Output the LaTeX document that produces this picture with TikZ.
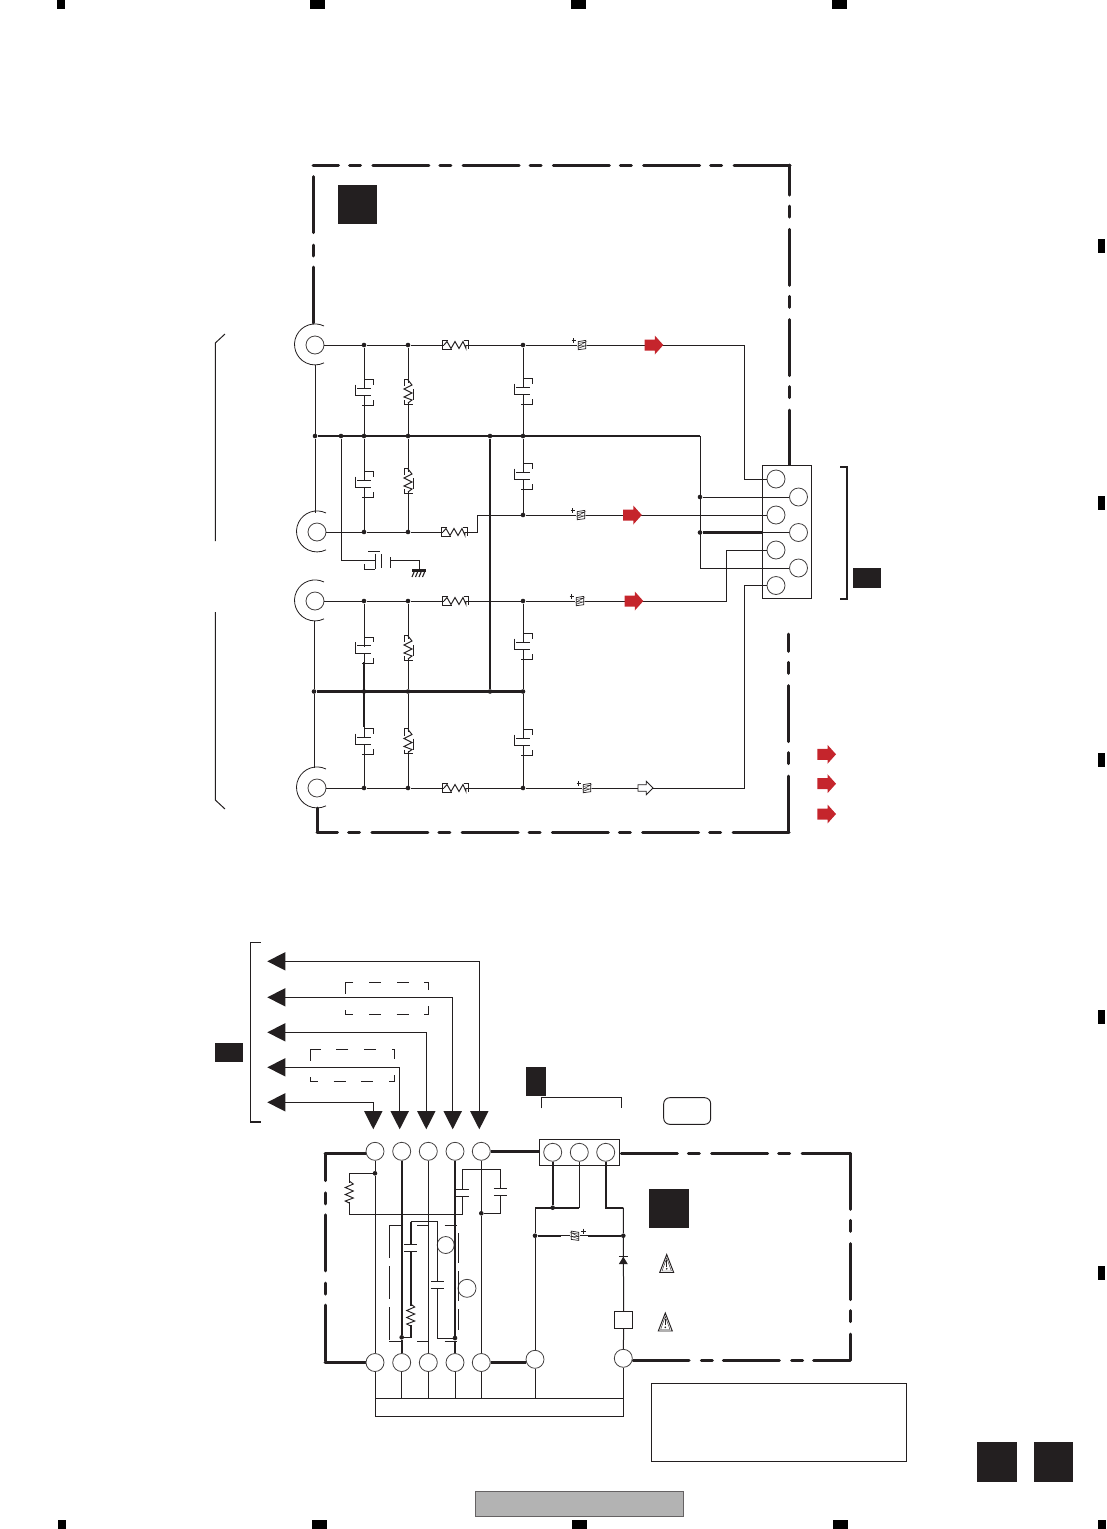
\documentclass[tikz,border=0pt]{standalone}
\definecolor{ink}{HTML}{231F20}
\definecolor{redmark}{HTML}{C5252C}
\definecolor{panelgray}{HTML}{B3B3B3}
\tikzset{
  wire/.style={ink,line width=1pt},
  heavy/.style={ink,line width=2.2pt},
  frameline/.style={ink,line width=3pt,line cap=round,dash pattern=on 56pt off 12.3pt on 11pt off 11pt},
  framesolid/.style={ink,line width=3pt,line cap=round},
  markline/.style={ink,line width=.95pt},
  boxdash/.style={ink,line width=1pt,dash pattern=on 12pt off 15.7pt},
  term/.style={circle,draw=ink!85,line width=.8pt,minimum size=18pt,inner sep=0pt,fill=white},
  junc/.style={circle,fill=ink,minimum size=4.6pt,inner sep=0pt},
  plainbox/.style={draw=ink,line width=1pt,inner sep=0pt,fill=white},
  capmark/.pic={
    \fill[white] (-3,-3) rectangle (3,3);
    \draw[wire] (-6.7,-3.6) -- (6.7,-3.6);
    \draw[wire] (-6.7,3.6) -- (6.7,3.6);
    \draw[markline] (-9,-7.3) -- (-9,3.6) -- (-6.7,3.6);
    \draw[markline] (.7,-12.3) -- (9.3,-12.3) -- (9.3,-7.3);
    \draw[markline] (-2,13.7) -- (9.3,13.7) -- (9.3,8.3);
  },
  capplain/.pic={
    \fill[white] (-3,-3) rectangle (3,3);
    \draw[wire] (-6.5,-3.7) -- (6.5,-3.7);
    \draw[wire] (-6.5,3.7) -- (6.5,3.7);
  },
  resplain/.pic={
    \fill[white] (-2,-9.5) rectangle (2,9.5);
    \draw[markline] (0,-11) -- (4,-8) -- (-4,-4.5) -- (4,-1) -- (-4,2.5) -- (4,6) -- (-4,9) -- (0,11);
  },
  resmark/.pic={
    \fill[white] (-2,-9.5) rectangle (2,9.5);
    \draw[markline] (0,-12) -- (4,-7) -- (-4,-3) -- (4,1) -- (-4,5) -- (4,8) -- (0,11);
    \draw[markline] (0,-13) -- (-4,-13) -- (-4,-6);
    \draw[markline] (5,-3) -- (5,8);
    \draw[markline] (-4,8) -- (-4,12.3) -- (5,12.3);
  },
  reshoriz/.pic={
    \fill[white] (-11,-2) rectangle (11,2);
    \draw[markline] (-11,0) -- (-8,-3.5) -- (-4,3.5) -- (0,-3.5) -- (4,3.5) -- (8,-3.5) -- (11,3.5) -- (11,0);
    \draw[markline] (-7,-4.2) -- (-13,-4.2) -- (-13,4.2) -- (-3,4.2);
    \draw[markline] (9,-4.2) -- (13,-4.2) -- (13,4);
  },
  bead/.pic={
    \fill[white] (-5,-2) rectangle (5,2);
    \draw[ink,line width=.7pt] (-3.7,-3.4) -- (3.7,-4.6) -- (3.7,3.7) -- (-3.7,4.7) -- cycle;
    \draw[ink,line width=.45pt] (-3.7,-1.5) -- (3.7,-3) -- (-3.7,1) -- (3.7,.7) -- (-3.7,3.2);
    \draw[markline] (-10.5,-4.6) -- (-6,-4.6);
    \draw[markline] (-8.2,-7) -- (-8.2,-2.2);
  },
  redarrow/.pic={
    \fill[redmark] (-9.3,-5.5) -- (.8,-5.5) -- (.8,-9.5) -- (9.3,0) -- (.8,9.5) -- (.8,5.5) -- (-9.3,5.5) -- cycle;
  },
  hollowarrow/.pic={
    \draw[wire,fill=white,line width=.8pt] (-7.5,-3.3) -- (.8,-3.3) -- (.8,-6.7) -- (7.5,0) -- (.8,6.7) -- (.8,3.3) -- (-7.5,3.3) -- cycle;
  },
  trileft/.pic={\fill[ink] (0,-9.2) -- (-18,0) -- (0,9.2) -- cycle;},
  tridown/.pic={\fill[ink] (-9.3,0) -- (0,18.3) -- (9.3,0) -- cycle;},
  earth/.pic={
    \draw[heavy] (-7,0) -- (7,0);
    \foreach \x in {-4.5,-1,2.5,6} \draw[ink,line width=1.1pt] (\x,.5) -- (\x-2.5,6.5);
  },
  warnsign/.pic={
    \draw[markline] (0,-9) -- (7,9) -- (-7,9) -- cycle;
    \draw[ink,line width=.4pt] (0,-5.5) -- (4.7,7.5) -- (-4.7,7.5) -- cycle;
    \draw[ink,line width=1.3pt] (0,-3.5) -- (0,3);
    \fill[ink] (0,5.3) circle (.9);
  },
  diodeup/.pic={
    \draw[wire] (-4.5,-3.8) -- (4.5,-3.8);
    \fill[ink] (0,-3.8) -- (4.5,3.6) -- (-4.5,3.6) -- cycle;
  },
}
\begin{document}
\begin{tikzpicture}[x=1pt,y=-1pt]
    \useasboundingbox (0,0) rectangle (1106,1529);

    % Page marks
    \foreach \x in {57,310,571,832} \fill[black] (\x,0) rectangle +(\ifnum\x=57 8\else 15\fi,8.5);
    \foreach \x in {58,312,572,833} \fill[black] (\x,1520) rectangle +(\ifnum\x=58 8\else 15\fi,9);
    \foreach \y in {239,496,753,1010,1266} \fill[black] (1098,\y) rectangle +(7,14);
    \fill[black] (1098,1520) rectangle (1106,1529);

    % Black tags
    \fill[ink] (338,185) rectangle (377,224);
    \fill[ink] (853,568) rectangle (881,588);
    \fill[ink] (215,1043.3) rectangle (243,1061.7);
    \fill[ink] (526,1066.7) rectangle (546,1095.7);
    \fill[ink] (649,1189) rectangle (689,1227.7);
    \fill[ink] (977,1442) rectangle (1017,1482);
    \fill[ink] (1034,1442) rectangle (1073,1482);

    % Gray panel and note box
    \draw[fill=panelgray,draw=ink!70,line width=.9pt] (475,1491) rectangle (683,1516.7);
    \draw[wire] (651.5,1383) rectangle (906.5,1461);

    % Upper frame
    \draw[frameline] (789,466) -- (789,165);
    \draw[frameline] (790,165) -- (313,165);
    \draw[frameline] (313,176.7) -- (313,326);
    \draw[frameline] (788.5,832) -- (788.5,634);
    \draw[frameline] (789,832) -- (317,832);
    \draw[framesolid] (317,808) -- (317,832);

    % Side brackets
    \draw[wire] (225,334) -- (215.3,343) -- (215.3,541);
    \draw[wire] (215.3,612) -- (215.3,800) -- (225,809);
    \draw[ink,line width=1.9pt] (840,467) -- (847.3,467) -- (847.3,598.7) -- (840,598.7);

    % Jacks
    \node[term] (j1) at (315,345) {};
    \node[term] (j2) at (317,532) {};
    \node[term] (j3) at (315,601) {};
    \node[term] (j4) at (317,788) {};
    \foreach \c in {j1,j2,j3,j4}
      \draw[markline,line width=.8pt] (\c) ++(9,-19) arc[start angle=64,end angle=296,radius=20.5pt];
    \coordinate (j1b) at (315,365);
    \coordinate (j2t) at (315,512.7);
    \coordinate (j3b) at (314,620.7);
    \coordinate (j4t) at (314,768.3);

    % Connector block
    \node[plainbox,minimum width=49.4pt,minimum height=132.7pt] (cn1) at (787,532.3) {};
    \node[term] (p1) at (776,479) {};
    \node[term] (p2) at (798.5,497) {};
    \node[term] (p3) at (776,515) {};
    \node[term] (p4) at (798.5,532.5) {};
    \node[term] (p5) at (776,550) {};
    \node[term] (p6) at (798.5,568) {};
    \node[term] (p7) at (776,585.5) {};

    % Junctions
    \foreach \x in {364,408,523} {
      \node[junc] (a\x) at (\x,345) {};
      \node[junc] (e\x) at (\x,601) {};
      \node[junc] (g\x) at (\x,788) {};
    }
    \foreach \x in {315,341,364,408,490,523} \node[junc] (b\x) at (\x,436) {};
    \foreach \x in {314,364,408,490,523} \node[junc] (h\x) at (\x,691.5) {};
    \node[junc] (c364) at (364,532) {};
    \node[junc] (c408) at (408,532) {};
    \node[junc] (c523) at (523,515) {};
    \node[junc] (f497) at (700,497) {};
    \node[junc] (f532) at (700,532.5) {};

    \coordinate (b700) at (700,436);
    \coordinate (k1) at (744,479);
    \coordinate (k2) at (477,532);
    \coordinate (k3) at (726,601);
    \coordinate (k4) at (744,788);
    \coordinate (k5) at (419,560);
    \coordinate (k6) at (700,568);
    \coordinate (gnd) at (419,570.5);
    \coordinate (r1) at (364,662);
    \coordinate (r2) at (364,727);

    % Signal wires
    \draw[wire] (j1) -- (a364) -- (a408) -- (a523) -| (k1) -- (p1);
    \draw[wire] (j2) -- (c364) -- (c408) -- (k2) |- (c523) -- (p3);
    \draw[wire] (j3) -- (e364) -- (e408) -- (e523) -| (k3) |- (p5);
    \draw[wire] (j4) -- (g364) -- (g408) -- (g523) -| (k4) |- (p7);

    % Vertical branches
    \draw[wire] (a364) -- (b364) -- (c364);
    \draw[wire] (a408) -- (b408) -- (c408);
    \draw[wire] (a523) -- (b523) -- (c523);
    \draw[wire] (e364) -- (h364) -- (g364);
    \draw[wire] (e408) -- (h408) -- (g408);
    \draw[wire] (e523) -- (h523) -- (g523);
    \draw[wire] (j1b) -- (b315) -- (j2t);
    \draw[wire] (j3b) -- (h314) -- (j4t);
    \draw[wire] (b341) |- (k5) -- (gnd);

    % Ground buses
    \draw[heavy] (b315) -- (b700);
    \draw[heavy] (h314) -- (h523);
    \draw[heavy] (b490) -- (h490);
    \draw[heavy] (r1) -- (r2);
    \draw[wire] (b700) -- (k6) -- (p6);
    \draw[wire] (f497) -- (p2);
    \draw[wire] (f532) -- (p4);
    \draw[heavy] (f532) -- (f532 -| cn1.west);

    % Filter parts
    \foreach \x/\y in {364/392,364/484,523/391,523/476,364/649.5,364/741,523/646,523/742} \pic at (\x,\y) {capmark};
    \foreach \x/\y in {408/392,408/481,408/648,408/741.5} \pic at (\x,\y) {resmark};
    \foreach \x/\y in {455/345,454/532,455/601,455/788} \pic at (\x,\y) {reshoriz};
    \foreach \x/\y in {582/345,581/515,580/601,587/788} \pic at (\x,\y) {bead};
    \foreach \x/\y in {654/345,632.5/515,634/601,826.7/754.3,826.7/783.7,826.7/814} \pic at (\x,\y) {redarrow};
    \pic at (645.5,788) {hollowarrow};

    % Chassis capacitor
    \fill[white] (376,555) rectangle (380.5,565);
    \draw[wire] (375,553.5) -- (375,569);
    \draw[wire] (381.3,554) -- (381.3,568);
    \fill[white] (382,556) rectangle (390,564);
    \draw[wire] (390.7,557) -- (390.7,568);
    \draw[markline] (368,551) -- (380,551);
    \draw[markline] (364,564) -- (364,569.3) -- (375,569.3);
    \pic at (gnd) {earth};

    % Output arrows to the lower board
    \draw[ink,line width=1.4pt] (260.7,942.7) -- (250.7,942.7) -- (250.7,1122) -- (260.7,1122);
    \foreach \n/\lx/\ly in {1/373.3/1102.3,2/399.7/1067.3,3/426.3/1032.3,4/452.7/997.3,5/479.3/961.3} {
      \coordinate (l\n) at (285.3,\ly);
      \coordinate (d\n) at (\lx,1111);
      \draw[wire] (l\n) -| (d\n);
      \pic at (l\n) {trileft};
      \pic at (d\n) {tridown};
    }
    \draw[boxdash] (345.3,982.3) rectangle (428.3,1014);
    \draw[boxdash] (310.3,1049.3) rectangle (394.3,1081.3);

    % Lower board tag marks
    \draw[ink,line width=1.3pt] (541.7,1108.3) -- (541.7,1097.7) -- (621.3,1097.7) -- (621.3,1108.3);
    \draw[markline,rounded corners=6pt] (663.7,1097.7) rectangle (710.7,1124.3);

    % Lower frame
    \draw[frameline,dash phase=29pt] (325,1153.5) -- (325,1362.5);
    \draw[framesolid] (366,1153.5) -- (325,1153.5);
    \draw[framesolid] (366,1362.5) -- (325,1362.5);
    \draw[frameline] (633,1360) -- (850,1360);
    \draw[frameline,dash phase=30pt] (850,1360) -- (850,1153.3);
    \draw[frameline,dash phase=8pt] (850,1153.3) -- (619.3,1153.3);

    % Pads
    \foreach \n/\x in {1/375,2/401.7,3/428.3,4/455,5/481.3} {
      \node[term] (t\n) at (\x,1151.3) {};
      \node[term] (u\n) at (\x,1362.5) {};
    }
    \node[term] (u6) at (535,1359.3) {};
    \node[term] (u7) at (623.3,1358.3) {};
    \node[term,minimum size=17pt] (n1) at (445.7,1245) {};
    \node[term] (n2) at (467,1288.3) {};
    \node[plainbox,minimum width=80pt,minimum height=26pt] (cn2) at (579.3,1152.3) {};
    \node[term] (v1) at (552.7,1152.3) {};
    \node[term] (v2) at (579.3,1152.3) {};
    \node[term] (v3) at (605.7,1152.3) {};
    \node[plainbox,fill=none,minimum width=248pt,minimum height=17.7pt] (bar) at (499.3,1407.2) {};
    \node[plainbox,minimum width=18pt,minimum height=16.6pt] (fuse) at (623.7,1320) {};

    % Lower junctions
    \node[junc] (dr1) at (375,1173.3) {};
    \node[junc] (dr5) at (481.3,1213.3) {};
    \node[junc] (dr2) at (401.7,1337.3) {};
    \node[junc] (dr4) at (455,1338) {};
    \node[junc] (w1) at (552.7,1207.7) {};
    \node[junc] (dj1) at (535,1235.7) {};
    \node[junc] (dj2) at (623.3,1235.7) {};
    \coordinate (w0) at (535,1207.7);
    \coordinate (k7) at (579.3,1207.7);
    \coordinate (k8) at (623.3,1207.7);
    \coordinate (k9) at (560.7,1235.7);
    \coordinate (k10) at (588.3,1235.7);
    \coordinate (q1) at (349.3,1173.3);
    \coordinate (q2) at (349.3,1214.3);
    \coordinate (q3) at (462.7,1214.3);
    \coordinate (q4) at (462.7,1169.3);
    \coordinate (q5) at (500.3,1169.3);
    \coordinate (q6) at (500.3,1213.3);
    \coordinate (i1) at (410.7,1221.7);
    \coordinate (i2) at (437.3,1221.7);
    \coordinate (i3) at (437.3,1338);
    \coordinate (i4) at (410.7,1337.3);

    % Lower wires
    \draw[wire] (t1) -- (dr1) -- (u1);
    \draw[heavy,line width=1.6pt] (t2) -- (dr2) -- (u2);
    \draw[wire] (t3) -- (u3);
    \draw[heavy,line width=1.6pt] (t4) -- (dr4) -- (u4);
    \draw[wire] (t5) -- (dr5) -- (u5);
    \draw[wire] (dr1) -- (q1) -- (q2) -- (q3) -- (q4) -- (q5) -- (q6) -- (dr5);
    \draw[heavy,line width=1.6pt] (i1) -- (i4) -- (dr2);
    \draw[wire] (i1) -- (i2) -- (i3) -- (dr4);
    \draw[heavy,line width=2.6pt] (t5) -- (t5 -| cn2.west);
    \draw[heavy,line width=2.6pt] (u5) -- (u5 -| u6.west);
    \draw[heavy] (v1) -- (w1);
    \draw[wire] (v2) -- (k7);
    \draw[heavy] (w0) -- (k7);
    \draw[heavy] (v3) |- (k8);
    \draw[wire] (w0) -- (dj1) -- (u6);
    \draw[wire] (k8) -- (dj2) -- (fuse) -- (u7);
    \draw[wire] (dj1) -- (dj2);
    \draw[heavy] (dj1) -- (k9);
    \draw[heavy] (k10) -- (dj2);
    \foreach \n in {1,2,3,4,5,6,7} \draw[wire] (u\n) -- (u\n |- bar.north);

    % Lower parts
    \draw[boxdash,dash pattern=on 33pt off 8pt] (389.3,1225.3) -- (389.3,1341.3);
    \draw[boxdash] (389.3,1225.3) -- (458.3,1225.3);
    \draw[boxdash] (389.3,1341.3) -- (458.3,1341.3);
    \draw[boxdash,dash pattern=on 30pt off 8pt] (458.3,1233) -- (458.3,1330);
    \foreach \x/\y in {462.7/1193,500.3/1192,410.7/1248,437.3/1285} \pic at (\x,\y) {capplain};
    \foreach \x/\y in {349.3/1192,410.7/1315} \pic at (\x,\y) {resplain};
    \pic[xscale=-1] at (575,1235.7) {bead};
    \pic at (623.3,1260.5) {diodeup};
    \pic at (666.7,1263.5) {warnsign};
    \pic at (665.3,1322) {warnsign};
\end{tikzpicture}
\end{document}
